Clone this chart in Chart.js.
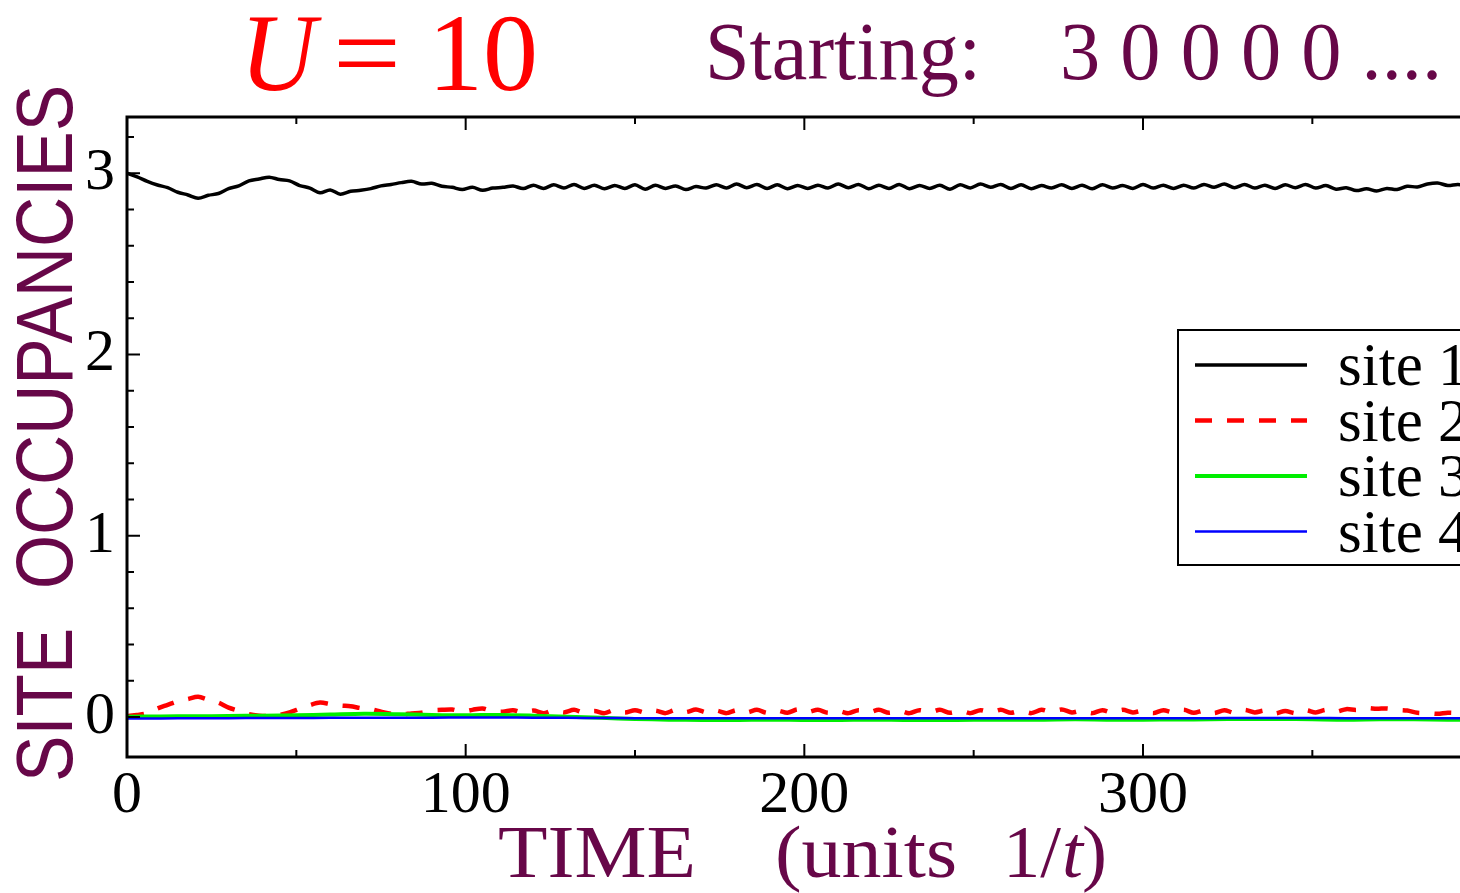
<!DOCTYPE html>
<html>
<head>
<meta charset="utf-8">
<script src="https://cdn.jsdelivr.net/npm/chart.js@4.4.1/dist/chart.umd.min.js"></script>
<style>
  html, body { margin: 0; padding: 0; background: #fff; }
  canvas { display: block; }
</style>
</head>
<body>
<canvas id="grafico" width="1460" height="893"></canvas>
<script>
// tempo (unidades 1/t) para as curvas com oscilação visível
const tempoFino = [
  0, 3, 6, 9, 12, 15, 18, 21, 24, 27, 30, 33, 36, 39, 42, 45, 48, 51, 54, 57,
  60, 63, 66, 69, 72, 75, 78, 81, 84, 87, 90, 93, 96, 99, 102, 105, 108, 111, 114, 117,
  120, 123, 126, 129, 132, 135, 138, 141, 144, 147, 150, 153, 156, 159, 162, 165, 168, 171, 174, 177,
  180, 183, 186, 189, 192, 195, 198, 201, 204, 207, 210, 213, 216, 219, 222, 225, 228, 231, 234, 237,
  240, 243, 246, 249, 252, 255, 258, 261, 264, 267, 270, 273, 276, 279, 282, 285, 288, 291, 294, 297,
  300, 303, 306, 309, 312, 315, 318, 321, 324, 327, 330, 333, 336, 339, 342, 345, 348, 351, 354, 357,
  360, 363, 366, 369, 372, 375, 378, 381, 384, 387, 390, 393, 396
];

// tempo para as curvas quase constantes
const tempoGrosso = [
  0, 10, 20, 30, 40, 50, 60, 70, 80, 90, 100, 110, 120, 130, 140, 150, 160, 170, 180, 190,
  200, 210, 220, 230, 240, 250, 260, 270, 280, 290, 300, 310, 320, 330, 340, 350, 360, 370, 380, 390, 400
];

// rótulos do eixo do tempo
const rotulosTempo = [0, 100, 200, 300];

const site1 = [
  3.000, 2.980, 2.955, 2.935, 2.920, 2.895, 2.880, 2.862, 2.878, 2.888,
  2.915, 2.930, 2.958, 2.968, 2.978, 2.965, 2.958, 2.932, 2.918, 2.892,
  2.908, 2.884, 2.900, 2.906, 2.915, 2.930, 2.938, 2.948, 2.955, 2.940,
  2.944, 2.928, 2.922, 2.910, 2.922, 2.906, 2.918, 2.922, 2.930, 2.915,
  2.934, 2.916, 2.936, 2.918, 2.938, 2.916, 2.934, 2.914, 2.932, 2.916,
  2.936, 2.912, 2.934, 2.916, 2.930, 2.910, 2.926, 2.918, 2.936, 2.918,
  2.940, 2.920, 2.938, 2.916, 2.936, 2.914, 2.932, 2.916, 2.934, 2.918,
  2.940, 2.920, 2.938, 2.914, 2.934, 2.916, 2.938, 2.914, 2.932, 2.916,
  2.934, 2.912, 2.936, 2.918, 2.940, 2.922, 2.938, 2.916, 2.936, 2.914,
  2.932, 2.918, 2.936, 2.916, 2.934, 2.914, 2.936, 2.918, 2.932, 2.916,
  2.938, 2.918, 2.934, 2.916, 2.934, 2.918, 2.938, 2.922, 2.940, 2.920,
  2.938, 2.918, 2.934, 2.916, 2.936, 2.920, 2.938, 2.918, 2.932, 2.912,
  2.920, 2.904, 2.914, 2.902, 2.916, 2.910, 2.928, 2.924, 2.940, 2.946,
  2.932, 2.938, 2.928
];

const site2 = [
  0.005, 0.012, 0.022, 0.048, 0.068, 0.088, 0.100, 0.112, 0.096, 0.080,
  0.052, 0.034, 0.016, 0.008, 0.006, 0.012, 0.026, 0.046, 0.066, 0.080,
  0.072, 0.064, 0.060, 0.050, 0.044, 0.030, 0.018, 0.015, 0.020, 0.024,
  0.036, 0.040, 0.042, 0.030, 0.040, 0.048, 0.032, 0.030, 0.038, 0.024,
  0.036, 0.022, 0.038, 0.026, 0.040, 0.024, 0.034, 0.022, 0.040, 0.026,
  0.038, 0.024, 0.036, 0.022, 0.040, 0.028, 0.042, 0.026, 0.036, 0.022,
  0.038, 0.026, 0.040, 0.024, 0.036, 0.024, 0.042, 0.028, 0.040, 0.024,
  0.034, 0.022, 0.038, 0.026, 0.040, 0.024, 0.036, 0.022, 0.038, 0.026,
  0.040, 0.024, 0.036, 0.022, 0.038, 0.026, 0.040, 0.024, 0.036, 0.022,
  0.040, 0.028, 0.042, 0.026, 0.036, 0.022, 0.038, 0.024, 0.040, 0.026,
  0.036, 0.022, 0.038, 0.026, 0.040, 0.024, 0.036, 0.022, 0.038, 0.024,
  0.040, 0.026, 0.036, 0.020, 0.034, 0.022, 0.038, 0.026, 0.040, 0.030,
  0.044, 0.040, 0.050, 0.046, 0.048, 0.040, 0.036, 0.024, 0.022, 0.018,
  0.024, 0.022, 0.020
];

const site3 = [
  0.002, 0.004, 0.005, 0.006, 0.008, 0.010, 0.014, 0.018, 0.016, 0.012,
  0.010, 0.012, 0.008, 0.002, -0.004, -0.010, -0.014, -0.016, -0.016, -0.014,
  -0.016, -0.016, -0.014, -0.016, -0.016, -0.015, -0.014, -0.014, -0.012, -0.014,
  -0.014, -0.013, -0.012, -0.010, -0.010, -0.012, -0.014, -0.012, -0.012, -0.014,
  -0.014
];

const site4 = [
  -0.007, -0.007, -0.006, -0.006, -0.005, -0.005, -0.004, -0.004, -0.003, -0.003,
  -0.002, -0.002, -0.003, -0.004, -0.005, -0.006, -0.006, -0.006, -0.006, -0.006,
  -0.006, -0.006, -0.006, -0.006, -0.006, -0.006, -0.006, -0.006, -0.006, -0.006,
  -0.006, -0.006, -0.006, -0.005, -0.005, -0.005, -0.006, -0.006, -0.006, -0.006,
  -0.006
];

const nomes = ['site 1', 'site 2', 'site 3', 'site 4'];
const roxo = 'rgb(103,7,72)';

function pontos(tempos, valores) {
  return valores.map((v, i) => ({ x: tempos[i], y: v }));
}

// desenha texto esticado/comprimido para caber numa largura
function textoAjustado(ctx, texto, x, y, fonte, cor, largura) {
  ctx.save();
  ctx.font = fonte;
  ctx.fillStyle = cor;
  ctx.textAlign = 'left';
  ctx.textBaseline = 'alphabetic';
  const w = ctx.measureText(texto).width;
  ctx.translate(x, y);
  ctx.scale(largura / w, 1);
  ctx.fillText(texto, 0, 0);
  ctx.restore();
}

// só os inteiros viram rótulo no eixo y
function soInteiros(s) {
  s.ticks = s.ticks
    .filter(t => t.value >= -1e-9 && Math.abs(t.value - Math.round(t.value)) < 1e-6)
    .map(t => ({ value: Math.round(t.value) }));
}

// moldura, marcas para dentro e rótulos do tempo, como no xmgrace
const moldura = {
  id: 'moldura',
  afterDatasetsDraw(chart) {
    const { ctx, chartArea: a, scales: { x, y } } = chart;
    ctx.save();
    ctx.strokeStyle = '#000';
    ctx.lineWidth = 3;
    ctx.strokeRect(a.left, a.top, a.right - a.left + 10, a.bottom - a.top);
    ctx.lineWidth = 2;
    ctx.beginPath();
    for (let k = 0; k * 50 <= x.max; k++) {
      const px = x.getPixelForValue(k * 50);
      const len = k % 2 === 0 ? 13 : 7;
      ctx.moveTo(px, a.bottom); ctx.lineTo(px, a.bottom - len);
      ctx.moveTo(px, a.top); ctx.lineTo(px, a.top + len);
    }
    for (let k = 0; k * 0.2 <= y.max; k++) {
      const py = y.getPixelForValue(k * 0.2);
      const len = k % 5 === 0 ? 13 : 7;
      ctx.moveTo(a.left, py); ctx.lineTo(a.left + len, py);
    }
    ctx.stroke();

    ctx.fillStyle = '#000';
    ctx.font = '60px "Liberation Serif"';
    ctx.textAlign = 'center';
    ctx.textBaseline = 'alphabetic';
    rotulosTempo.forEach(v => {
      ctx.fillText(String(v), x.getPixelForValue(v), 812);
    });
    ctx.restore();
  },
  afterDraw(chart) {
    const ctx = chart.ctx;
    // títulos do topo
    textoAjustado(ctx, 'U', 240, 90, 'italic 110px "Liberation Serif"', '#ff0000', 76);
    textoAjustado(ctx, '=', 333, 90, '110px "Liberation Serif"', '#ff0000', 68);
    textoAjustado(ctx, '10', 428, 90, '110px "Liberation Serif"', '#ff0000', 110);
    textoAjustado(ctx, 'Starting:', 705, 79, '82px "Liberation Serif"', roxo, 276);
    textoAjustado(ctx, '3 0 0 0 0 ....', 1060, 79, '82px "Liberation Serif"', roxo, 382);
    // título do eixo x
    textoAjustado(ctx, 'TIME', 498, 877, '74px "Liberation Serif"', roxo, 198);
    textoAjustado(ctx, '(units', 775, 877, '74px "Liberation Serif"', roxo, 182);
    textoAjustado(ctx, '1/', 1003, 877, '74px "Liberation Serif"', roxo, 58);
    textoAjustado(ctx, 't', 1062, 877, 'italic 74px "Liberation Serif"', roxo, 21);
    textoAjustado(ctx, ')', 1082, 877, '74px "Liberation Serif"', roxo, 25);
    // título do eixo y
    ctx.save();
    ctx.translate(72, 782);
    ctx.rotate(-Math.PI / 2);
    textoAjustado(ctx, 'SITE  OCCUPANCIES', 0, 0, '80px "Liberation Sans"', roxo, 697);
    ctx.restore();

    // legenda
    ctx.save();
    ctx.fillStyle = '#fff';
    ctx.fillRect(1178, 330, 300, 235);
    ctx.strokeStyle = '#000';
    ctx.lineWidth = 2;
    ctx.strokeRect(1178, 330, 300, 235);
    chart.data.datasets.forEach((ds, i) => {
      const ly = 365 + i * 55.5;
      ctx.beginPath();
      ctx.strokeStyle = ds.borderColor;
      ctx.lineWidth = ds.borderWidth;
      ctx.setLineDash(ds.borderDash || []);
      ctx.moveTo(1195, ly);
      ctx.lineTo(1307, ly);
      ctx.stroke();
      ctx.setLineDash([]);
      ctx.fillStyle = '#000';
      ctx.font = '61px "Liberation Serif"';
      ctx.textBaseline = 'alphabetic';
      ctx.fillText(ds.label, 1338, ly + 20);
    });
    ctx.restore();
  }
};

const ctx = document.getElementById('grafico').getContext('2d');

const grafico = new Chart(ctx, {
  type: 'line',
  data: {
    datasets: [
      { label: nomes[0], data: pontos(tempoFino, site1), borderColor: '#000000', borderWidth: 3.5, order: 3 },
      { label: nomes[1], data: pontos(tempoFino, site2), borderColor: '#ff0000', borderWidth: 4.5, borderDash: [17, 15], order: 2 },
      { label: nomes[2], data: pontos(tempoGrosso, site3), borderColor: '#00ee00', borderWidth: 4, order: 1 },
      { label: nomes[3], data: pontos(tempoGrosso, site4), borderColor: '#0000ff', borderWidth: 2.5, order: 0 }
    ]
  },
  options: {
    responsive: false,
    animation: false,
    devicePixelRatio: 1,
    layout: { padding: { top: 117, left: 0, right: 0, bottom: 0 } },
    elements: {
      point: { radius: 0 },
      line: { tension: 0.3, fill: false }
    },
    plugins: {
      legend: { display: false },
      tooltip: { enabled: false }
    },
    scales: {
      x: {
        type: 'linear',
        min: 0,
        max: 393.6,
        afterFit(s) { s.height = 136; },
        grid: { display: false, drawTicks: false },
        border: { display: false },
        ticks: { display: false }
      },
      y: {
        min: -0.22,
        max: 3.31,
        afterFit(s) { s.width = 127; },
        afterBuildTicks: soInteiros,
        grid: { display: false, drawTicks: false },
        border: { display: false },
        ticks: {
          stepSize: 1,
          includeBounds: false,
          color: '#000',
          padding: 12,
          font: { family: 'Liberation Serif', size: 60 }
        }
      }
    }
  },
  plugins: [moldura]
});
</script>
</body>
</html>
